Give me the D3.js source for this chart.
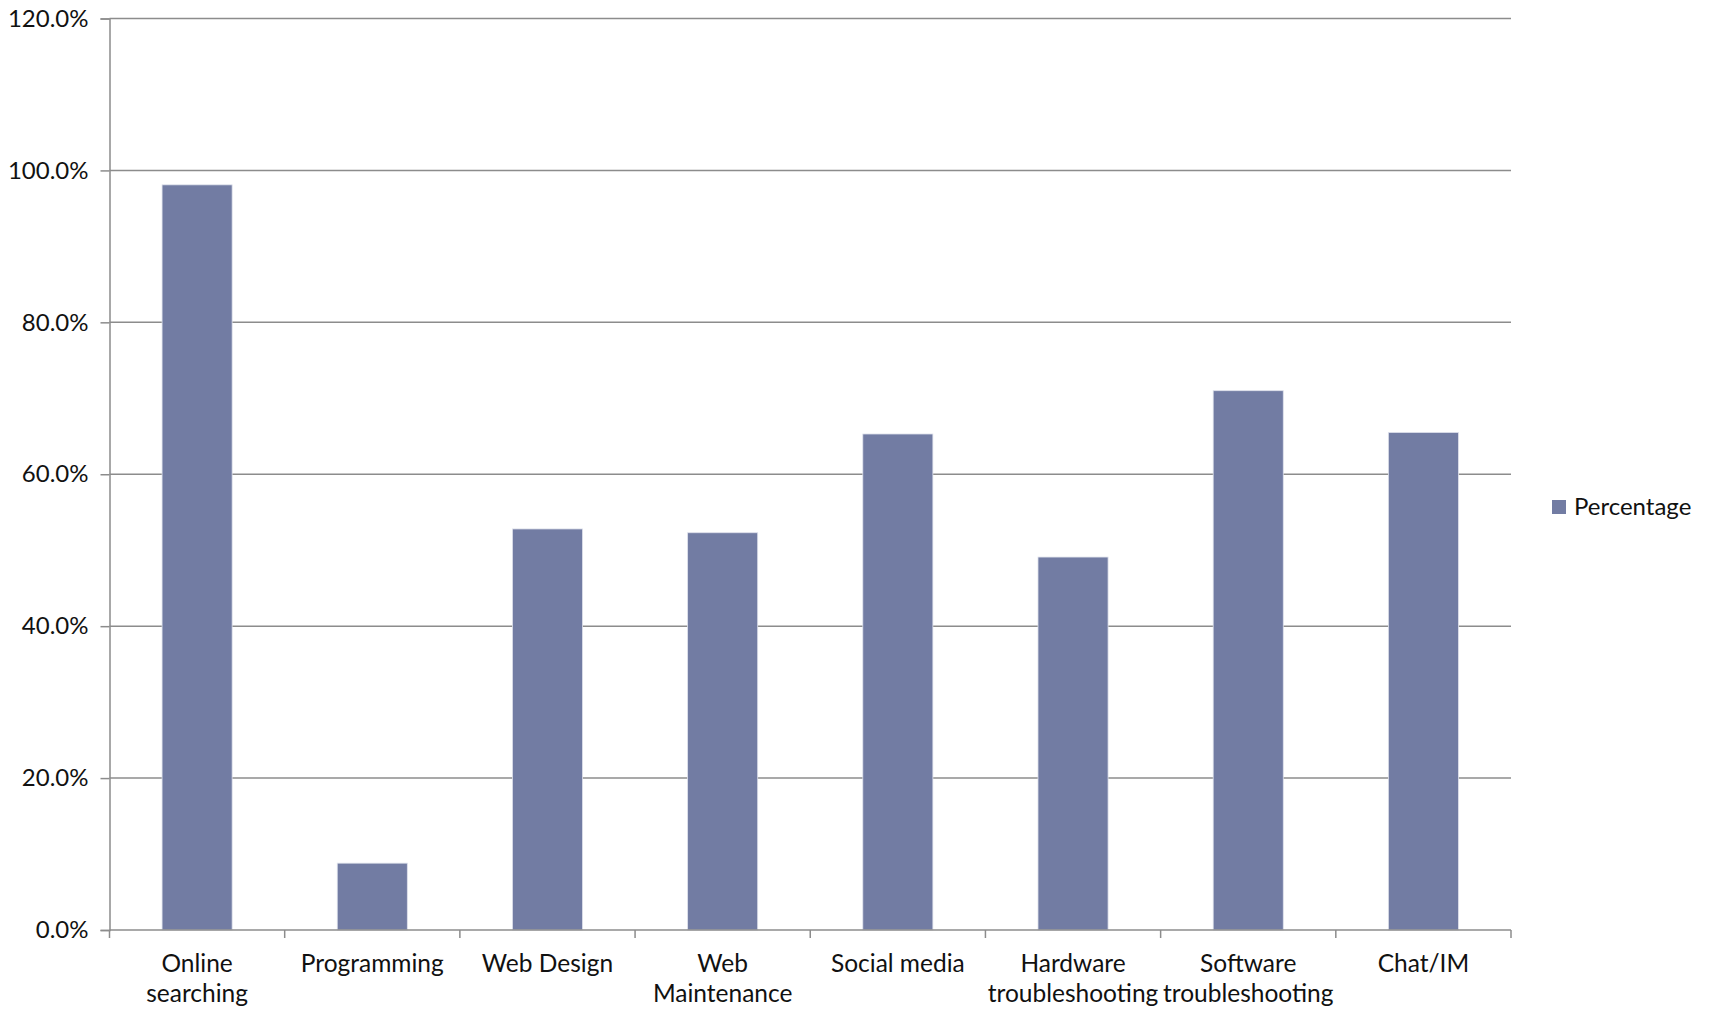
<!DOCTYPE html>
<html>
<head>
<meta charset="utf-8">
<script src="https://d3js.org/d3.v7.min.js"></script>
<style>
  html, body { margin: 0; padding: 0; background: #fff; }
  svg { display: block; }
  text { font-family: Lato, "Open Sans", sans-serif; fill: #111; }
</style>
</head>
<body>
<svg id="chart" width="1713" height="1010"></svg>
<script>
// Share of respondents per computer skill
const categories = [
  ["Online", "searching"],
  ["Programming"],
  ["Web Design"],
  ["Web", "Maintenance"],
  ["Social media"],
  ["Hardware", "troubleshooting"],
  ["Software", "troubleshooting"],
  ["Chat/IM"]
];
const percentages = [98.1, 8.8, 52.8, 52.3, 65.3, 49.1, 71.0, 65.5];
const yTicks = [0, 20, 40, 60, 80, 100, 120];
const seriesName = "Percentage";

const svg = d3.select("#chart");
const margin = { left: 109.5, right: 202, top: 18.5, bottom: 80 };
const W = 1713, H = 1010;
const plotW = W - margin.left - margin.right;
const plotH = H - margin.top - margin.bottom;
const barColor = "#727ca3";
const gridColor = "#8c8c8c";
const fontSize = 24;
const catFontSize = 24.5;

const x = d3.scaleBand()
  .domain(d3.range(categories.length))
  .range([0, plotW])
  .paddingInner(0.6)
  .paddingOuter(0.3);

const y = d3.scaleLinear().domain([0, 120]).range([plotH, 0]);

const g = svg.append("g").attr("transform", `translate(${margin.left},${margin.top})`);

// horizontal gridlines
g.append("g")
  .selectAll("line")
  .data(yTicks.filter(d => d > 0))
  .join("line")
  .attr("x1", 0).attr("x2", plotW)
  .attr("y1", d => y(d)).attr("y2", d => y(d))
  .attr("stroke", gridColor).attr("stroke-width", 1.5);

// bars
g.append("g")
  .selectAll("rect")
  .data(percentages)
  .join("rect")
  .attr("x", (d, i) => x(i))
  .attr("width", x.bandwidth())
  .attr("y", d => y(d))
  .attr("height", d => plotH - y(d))
  .attr("fill", barColor)
  .attr("stroke", "#dfe2ec")
  .attr("stroke-width", 0.8);

// y axis
const yAxis = g.append("g")
  .call(d3.axisLeft(y).tickValues(yTicks).tickSize(9).tickPadding(12)
    .tickFormat(d => d.toFixed(1) + "%"));
yAxis.select(".domain").attr("stroke", gridColor).attr("stroke-width", 1.5);
yAxis.selectAll(".tick line").attr("stroke", gridColor).attr("stroke-width", 1.5);
yAxis.selectAll(".tick text")
  .style("font-size", fontSize + "px")
  .style("font-family", "Lato, 'Open Sans', sans-serif")
  .attr("fill", "#111");

// x axis: boundary ticks between categories
const step = x.step();
const xBase = g.append("g").attr("transform", `translate(0,${plotH})`);
xBase.append("line")
  .attr("x1", 0).attr("x2", plotW)
  .attr("stroke", gridColor).attr("stroke-width", 1.5);
xBase.selectAll("line.tick")
  .data(d3.range(categories.length + 1))
  .join("line")
  .attr("class", "tick")
  .attr("x1", i => i * step).attr("x2", i => i * step)
  .attr("y1", 0).attr("y2", 8)
  .attr("stroke", gridColor).attr("stroke-width", 1.5);

// category labels
const labels = xBase.selectAll("text.cat")
  .data(categories)
  .join("text")
  .attr("class", "cat")
  .attr("text-anchor", "middle")
  .attr("transform", (d, i) => `translate(${x(i) + x.bandwidth() / 2},42)`)
  .style("font-size", catFontSize + "px");
labels.selectAll("tspan")
  .data(d => d)
  .join("tspan")
  .attr("x", 0)
  .attr("dy", (d, i) => i === 0 ? 0 : 30)
  .text(d => d);

// legend
const legend = svg.append("g").attr("transform", "translate(1552,500)");
legend.append("rect")
  .attr("width", 14).attr("height", 14)
  .attr("fill", barColor);
legend.append("text")
  .attr("x", 22).attr("y", 15)
  .style("font-size", fontSize + "px")
  .text(seriesName);
</script>
</body>
</html>
